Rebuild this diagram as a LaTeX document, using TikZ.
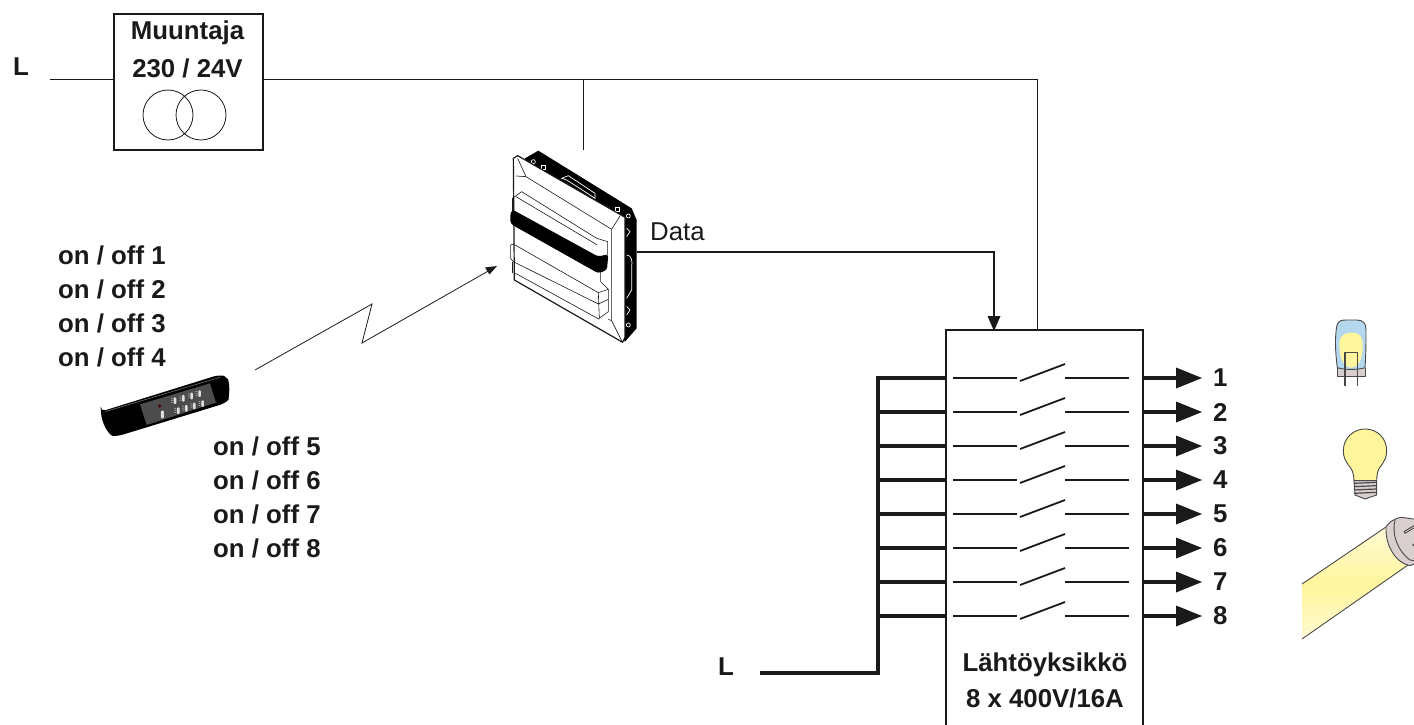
\documentclass[tikz,border=0pt]{standalone}
\usepackage{fontspec}
\setmainfont{Liberation Sans}
\usetikzlibrary{calc}
\definecolor{ink}{HTML}{1A1A1A}
\definecolor{lampY}{HTML}{FFF59D}
\definecolor{lampB}{HTML}{B5D8EE}
\definecolor{capG}{HTML}{D9CFCF}
\tikzset{
  box/.style={draw=ink,line width=2pt,inner sep=0pt,anchor=north west},
  wire/.style={draw=ink,line width=1pt},
  buswire/.style={draw=ink,line width=4.6pt},
  lbl/.style={font=\fontsize{25.8}{30}\bfseries\selectfont,text=ink,inner sep=0pt},
  swline/.style={draw=ink,line width=1.8pt},
  headtip/.style={fill=ink,draw=none},
  lampline/.style={draw=ink!80,line width=.9pt,line join=round},
  detail/.style={draw=ink,line width=.6pt,line join=round},
}
\begin{document}
\begin{tikzpicture}[x=1pt,y=-1pt]
\useasboundingbox (0,0) rectangle (1414,725);
\clip (0,0) rectangle (1414,725);
% transformer
\node[box,minimum width=149pt,minimum height=136pt] (trafo) at (113,13) {};
\node[lbl] (t1) at (187.5,33) {Muuntaja};
\node[lbl] (t2) at (187.5,68) {230 / 24V};
\draw[ink,line width=.8pt] (168,115) circle (25pt) (201,115) circle (25pt);
\node[lbl] (L1) at (21,67) {L};
\coordinate (Lin) at (50,80);
\draw[wire] (Lin) -- (Lin -| trafo.west);
% output unit
\node[box,draw=none,minimum width=195pt,minimum height=400pt] (unit) at (946,330) {};
\draw[draw=ink,line width=2pt] (unit.south west) -- (unit.north west) -- (unit.north east) -- (unit.south east);
\coordinate (supply) at (1037,80);
\coordinate (tap) at (583,80);
\coordinate (devtop) at (583,150);
\draw[wire] (trafo.east |- Lin) -- (supply) -- (supply |- unit.north);
\draw[wire] (tap) -- (devtop);
% device
\begin{scope}[shift={(480,130)},x=.3333pt,y=-.3333pt]
 \fill[black] (135,85) -- (175,62) -- (455,235) -- (470,270) -- (470,595) -- (435,635) -- (300,400) -- cycle;
 \foreach \a/\b in {160/95,445/258,445/585}
   \draw[white,line width=.7pt] (\a,\b) circle (6);
 \foreach \a/\b in {190/112,412/238}
   \draw[white,line width=.7pt] (\a-7,\b-6) rectangle (\a+7,\b+6);
 \draw[white,line width=.7pt] (245,145) -- (265,137) -- (345,190) -- (345,205) -- (330,195) -- (260,150) -- cycle;
 \draw[white,line width=.7pt] (440,295) -- (450,305) -- (440,320);
 \draw[white,line width=.7pt] (440,375) .. controls (455,375) and (458,395) .. (455,410) -- (455,480) -- (440,505);
 \draw[white,line width=.7pt] (440,530) -- (450,540) -- (440,555);
 \draw[ink,fill=white,line width=1.2pt,line join=round] (100,85) -- (113,77) -- (435,262) -- (435,622) -- (428,637) -- (103,450) -- cycle;
 \draw[detail] (113,85) -- (138,140) -- (395,298) -- (420,258);
 \draw[detail] (395,298) -- (395,572) -- (425,632);
 \draw[detail] (138,140) -- (108,138);
 \draw[detail] (395,572) -- (385,568);
 \draw[detail] (103,430) -- (110,432) -- (358,568);
 \draw[detail] (97,205) -- (125,185) -- (350,325) -- (383,335) -- (383,375);
 \draw[detail] (97,205) -- (97,245);
 \draw[detail] (108,200) -- (352,345);
 \draw[detail] (92,345) -- (92,385) -- (100,395);
 \draw[detail] (92,345) -- (100,342) -- (355,488) -- (385,478) -- (385,545) -- (358,565) -- (355,488);
 \draw[detail] (100,395) -- (355,522) -- (385,508);
 \draw[detail] (97,395) -- (97,430);
 \draw[detail] (362,425) -- (362,455) -- (385,478);
 \fill[black,rounded corners=3pt] (96,238) -- (355,380) -- (385,372) -- (381,420) -- (355,430) -- (92,282) -- (90,258) -- cycle;
\end{scope}
\coordinate (devout) at (637,252);
\coordinate (devin) at (497,266);
\node[font=\fontsize{25.8}{30}\selectfont,text=ink,inner sep=0pt,anchor=west] (data) at (650,232) {Data};
\coordinate (dataknee) at (994,252);
\draw[draw=ink,line width=2pt] (devout) -- (dataknee) -- ($(dataknee |- unit.north)+(0,-12)$);
\fill[headtip] ($(dataknee |- unit.north)+(0,1)$) -- ++(-6.5,-15) -- ++(13,0) -- cycle;
% radio link
\coordinate (rem) at (255,370);
\coordinate (z1) at (372,304);
\coordinate (z2) at (362,343);
\draw[draw=ink,line width=.8pt] (rem) -- (z1) -- (z2) -- ($(devin)+(-8,4.6)$);
\fill[headtip] (devin) -- ++(-12,1.5) -- ++(4.5,7) -- cycle;
% remote
\begin{scope}[shift={(90,360)},x=.3333pt,y=-.3333pt]
 \fill[black,rounded corners=5pt] (32,155) -- (385,45) .. controls (405,48) and (415,60) .. (418,72) .. controls (418,105) and (415,120) .. (405,130) -- (85,228) .. controls (60,228) and (40,200) .. cycle;
 \draw[gray,line width=.5pt] (45,155) -- (390,52);
 \fill[gray!60!black] (150,133) -- (360,70) -- (378,128) -- (170,195) -- cycle;
 \fill[red!30!black] (209,138) circle (5);
 \fill[gray!25,rounded corners=1pt] (213,152) rectangle (222,175);
 \foreach \x/\y in {255/122,280/115,305/108,329/101,265/152,289/145,313/138,338/131}{
   \fill[gray!25,rounded corners=1pt] (\x-4,\y-10) rectangle (\x+4,\y+10);
   \draw[gray!35,line width=.4pt] (\x-12,\y-6) -- (\x-7,\y-7) (\x-12,\y) -- (\x-7,\y-1) (\x-12,\y+6) -- (\x-7,\y+5);
 }
\end{scope}
% on/off labels
\foreach \i/\yy in {1/255,2/289,3/323,4/357}
  \node[lbl,anchor=west] (a\i) at (58,\yy) {on / off \i};
\foreach \i/\yy in {5/446,6/480,7/514,8/548}
  \node[lbl,anchor=west] (a\i) at (213,\yy) {on / off \i};
% rows
\foreach \i/\yy in {1/378,2/412,3/446,4/480,5/514,6/548,7/582,8/616}{
  \coordinate (bus\i) at (878,\yy);
  \coordinate (out\i) at (1176,\yy);
  \draw[buswire] (bus\i) -- (bus\i -| unit.west);
  \draw[swline] (953,\yy) -- (1017,\yy);
  \draw[swline] (1020,\yy+3) -- (1065,\yy-14);
  \draw[swline] (1065,\yy) -- (1129,\yy);
  \draw[buswire] (bus\i -| unit.east) -- (out\i);
  \fill[headtip] (out\i) ++(0,-10.5) -- ++(26,10.5) -- ++(-26,10.5) -- cycle;
  \node[lbl,anchor=west] (n\i) at (1213,\yy) {\i};
}
\coordinate (Lbus) at (878,673);
\coordinate (Lstart) at (760,673);
\draw[buswire] (Lstart) -- (Lbus) -- ($(bus1)+(0,-2)$);
\node[lbl] (L2) at (726,667) {L};
\node[lbl] (u1) at (1045,665) {Lähtöyksikkö};
\node[lbl] (u2) at (1045,698) {8 x 400V/16A};
% lamps
\begin{scope}[shift={(1280,320)},x=.3333pt,y=-.3333pt]
 \fill[capG] (172,140) -- (172,170) -- (255,170) -- (255,140) .. controls (235,150) and (190,150) .. cycle;
 \draw[lampline,fill=lampB] (172,143) .. controls (165,90) and (165,50) .. (170,20) .. controls (175,0) and (185,0) .. (200,0) -- (230,0) .. controls (250,0) and (258,10) .. (258,30) .. controls (258,70) and (258,100) .. (255,143) .. controls (235,150) and (190,150) .. cycle;
 \fill[lampY] (178,70) .. controls (180,45) and (195,38) .. (215,38) .. controls (240,38) and (248,50) .. (248,75) .. controls (248,120) and (235,142) .. (215,143) .. controls (190,142) and (178,115) .. cycle;
 \draw[lampline] (172,143) -- (172,170) -- (255,170) -- (255,143);
 \draw[lampline,line width=1.4pt] (195,198) -- (195,97) -- (232,97) -- (232,198);
 \draw[lampline,fill=lampY] (222,482) .. controls (222,460) and (215,445) .. (205,435) .. controls (195,420) and (190,410) .. (190,392) .. controls (190,355) and (220,327) .. (255,327) .. controls (292,327) and (320,355) .. (320,392) .. controls (320,410) and (315,420) .. (305,435) .. controls (295,445) and (290,460) .. (290,482) -- cycle;
 \draw[lampline,fill=capG] (222,482) -- (290,482) -- (290,525) -- (255,537) -- (225,525) -- cycle;
 \foreach \yy in {490,500,510,520} \draw[lampline,line width=1.2pt] (222,\yy) -- (290,\yy-3);
\end{scope}
\begin{scope}
 \clip (1302,584) -- (1386,527) -- (1408,565) -- (1302,639) -- cycle;
 \shade[rotate around={34:(1302,611)},shading=axis,top color=white,bottom color=white,middle color=lampY] (1200,588) rectangle (1500,634);
\end{scope}
\draw[lampline] (1302,584) -- (1386,527);
\draw[lampline] (1302,639) -- (1408,565);
\begin{scope}[shift={(1280,320)},x=.3333pt,y=-.3333pt]
 \draw[lampline,fill=capG] (318,620) .. controls (325,610) and (340,595) .. (365,592) -- (420,600) -- (420,725) -- (390,737) .. controls (350,730) and (315,680) .. (318,620) -- cycle;
 \draw[lampline] (345,600) .. controls (335,640) and (350,690) .. (390,720) -- (420,725);
 \draw[lampline,fill=capG] (372,635) -- (405,615) -- (405,622) -- (375,640) -- cycle;
 \draw[lampline,fill=capG] (398,675) -- (410,668) -- (410,680) -- cycle;
\end{scope}
\end{tikzpicture}
\end{document}
